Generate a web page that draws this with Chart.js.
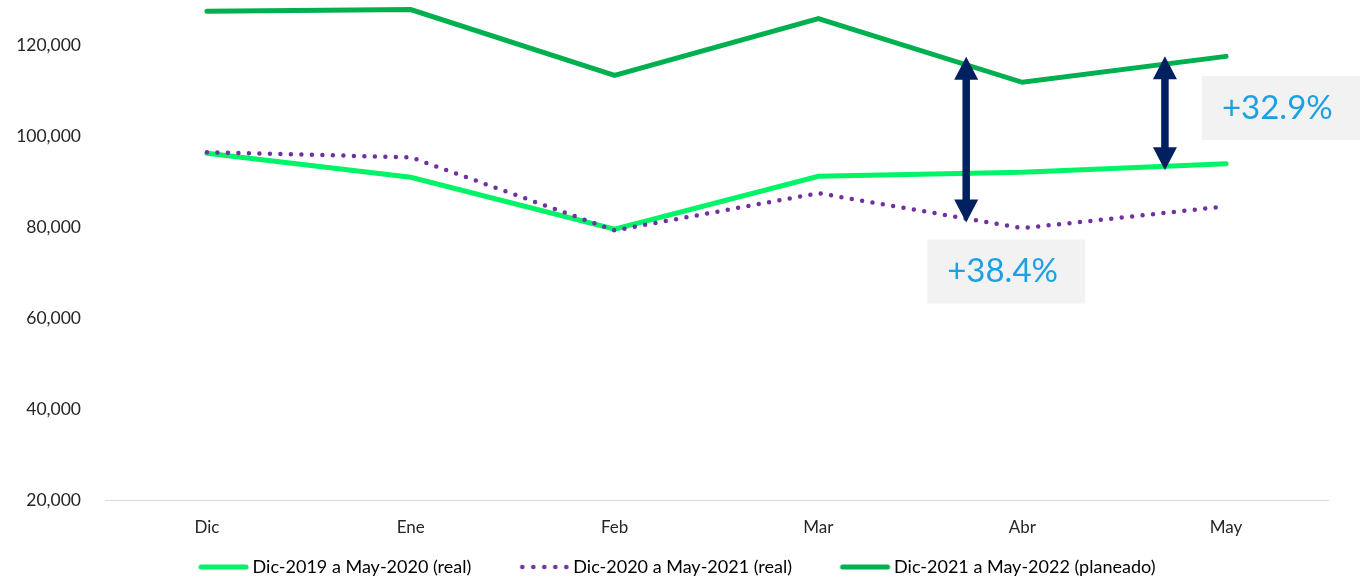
<!DOCTYPE html>
<html>
<head>
<meta charset="utf-8">
<script src="https://cdn.jsdelivr.net/npm/chart.js@4"></script>
<style>
  body { margin: 0; background: #fff; }
  #wrap { width: 1362px; height: 580px; position: relative; }
</style>
</head>
<body>
<div id="wrap"><canvas id="ventas"></canvas></div>
<script>
const months = ['Dic', 'Ene', 'Feb', 'Mar', 'Abr', 'May']
const seriesNames = ['Dic-2019 a May-2020 (real)', 'Dic-2020 a May-2021 (real)', 'Dic-2021 a May-2022 (planeado)']
const real2020 = [96300, 91000, 79600, 91200, 92100, 94000]
const real2021 = [96500, 95400, 79300, 87500, 79800, 84600]
const plan2022 = [127500, 127900, 113400, 125900, 111900, 117600]
const yTicks = [20000, 40000, 60000, 80000, 100000, 120000]

// gap arrows: position between months (category index), and their labels
const gapAt = [3.725, 4.70]
const gapLabels = ['+38.4%', '+32.9%']
const gapTop = [plan2022, plan2022]
const gapBottom = [real2021, real2020]

const FONT = 'Lato'
const colors = ['#00f467', '#7030a0', '#00b050']

const interp = (arr, pos) => {
  const i = Math.floor(pos), f = pos - i
  return arr[i] + (arr[i + 1] - arr[i]) * f
}

// legend samples: wide transparent canvas, the mark sits on its right part
// so that it ends just before the label text
const LEG_BOX = 71
function legendSample(color, dotted) {
  const cv = document.createElement('canvas')
  cv.width = LEG_BOX * 2
  cv.height = 8
  const c = cv.getContext('2d')
  const a = LEG_BOX + LEG_BOX / 2 - 45
  c.fillStyle = color
  c.strokeStyle = color
  if (dotted) {
    for (let i = 0; i < 5; i++) {
      c.beginPath()
      c.arc(a + 3 + i * 11, 4, 2.3, 0, Math.PI * 2)
      c.fill()
    }
  } else {
    c.lineWidth = 5
    c.lineCap = 'round'
    c.beginPath()
    c.moveTo(a + 2.5, 4)
    c.lineTo(a + 47.5, 4)
    c.stroke()
  }
  return cv
}
const samples = [legendSample(colors[0], false), legendSample(colors[1], true), legendSample(colors[2], false)]

const drawHead = (c, x, y, dir) => {
  c.beginPath()
  c.moveTo(x, y)
  c.lineTo(x - 12, y + dir * 23)
  c.lineTo(x + 12, y + dir * 23)
  c.closePath()
  c.fill()
}

const gapPlugin = {
  id: 'gaps',
  afterDatasetsDraw(chart) {
    const c = chart.ctx
    const xs = chart.scales.x, ys = chart.scales.y
    c.save()
    gapAt.forEach((pos, k) => {
      const x = xs.getPixelForValue(pos)
      const yTop = ys.getPixelForValue(interp(gapTop[k], pos)) - 8
      const yBot = ys.getPixelForValue(interp(gapBottom[k], pos)) + 4
      c.fillStyle = '#002060'
      c.strokeStyle = '#002060'
      c.lineWidth = 7.5
      c.beginPath()
      c.moveTo(x, yTop + 15)
      c.lineTo(x, yBot - 15)
      c.stroke()
      drawHead(c, x, yTop, 1)
      drawHead(c, x, yBot, -1)

      // label box
      let bx, by
      if (k === 0) { bx = x - 39; by = yBot + 17 }
      else { bx = x + 37; by = yTop + 20 }
      c.fillStyle = '#f2f2f2'
      c.fillRect(bx, by, 158, 64)
      c.fillStyle = '#1ba1e2'
      c.font = '33px ' + FONT
      c.textBaseline = 'middle'
      c.textAlign = 'left'
      c.fillText(gapLabels[k], bx + 20, by + 32)
    })
    c.restore()
  }
}

const ctx = document.getElementById('ventas')

const myChart = new Chart(ctx, {
  type: 'line',
  data: {
    labels: months,
    datasets: [{
      label: seriesNames[0],
      data: real2020,
      borderColor: colors[0],
      backgroundColor: colors[0],
      borderWidth: 5,
      borderCapStyle: 'round',
      order: 2
    }, {
      label: seriesNames[1],
      data: real2021,
      borderColor: colors[1],
      backgroundColor: colors[1],
      borderWidth: 4.5,
      borderDash: [0, 10.5],
      borderCapStyle: 'round',
      order: 1
    }, {
      label: seriesNames[2],
      data: plan2022,
      borderColor: colors[2],
      backgroundColor: colors[2],
      borderWidth: 5,
      borderCapStyle: 'round',
      order: 3
    }]
  },
  options: {
    responsive: true,
    maintainAspectRatio: false,
    animation: false,
    elements: { point: { radius: 0 }, line: { tension: 0 } },
    layout: { padding: { left: 0, right: 34, top: 0, bottom: 0 } },
    scales: {
      x: {
        offset: true,
        grid: { display: false, drawTicks: false },
        border: { display: true, color: '#d9d9d9', width: 1 },
        ticks: { color: '#262626', font: { family: FONT, size: 17 }, padding: 17 },
        afterFit: (s) => { s.height = 36 }
      },
      y: {
        min: 20000,
        max: 130000,
        grid: { display: false, drawTicks: false },
        border: { display: false },
        ticks: {
          padding: 24,
          color: '#262626',
          font: { family: FONT, size: 17.5 },
          callback: (v) => v.toLocaleString('en-US')
        },
        afterBuildTicks: (s) => { s.ticks = yTicks.map(v => ({ value: v })) },
        afterFit: (s) => { s.width = 105; s.paddingTop = 0 }
      }
    },
    plugins: {
      tooltip: { enabled: false },
      legend: {
        position: 'bottom',
        maxHeight: 44,
        labels: {
          usePointStyle: true,
          pointStyleWidth: LEG_BOX,
          padding: 22,
          color: '#262626',
          font: { family: FONT, size: 18 },
          generateLabels: (chart) => chart.data.datasets.map((ds, i) => ({
            text: ds.label,
            datasetIndex: i,
            pointStyle: samples[i],
            fillStyle: ds.borderColor,
            strokeStyle: ds.borderColor,
            lineWidth: 0,
            hidden: false
          }))
        }
      }
    }
  },
  plugins: [gapPlugin]
})
</script>
</body>
</html>
